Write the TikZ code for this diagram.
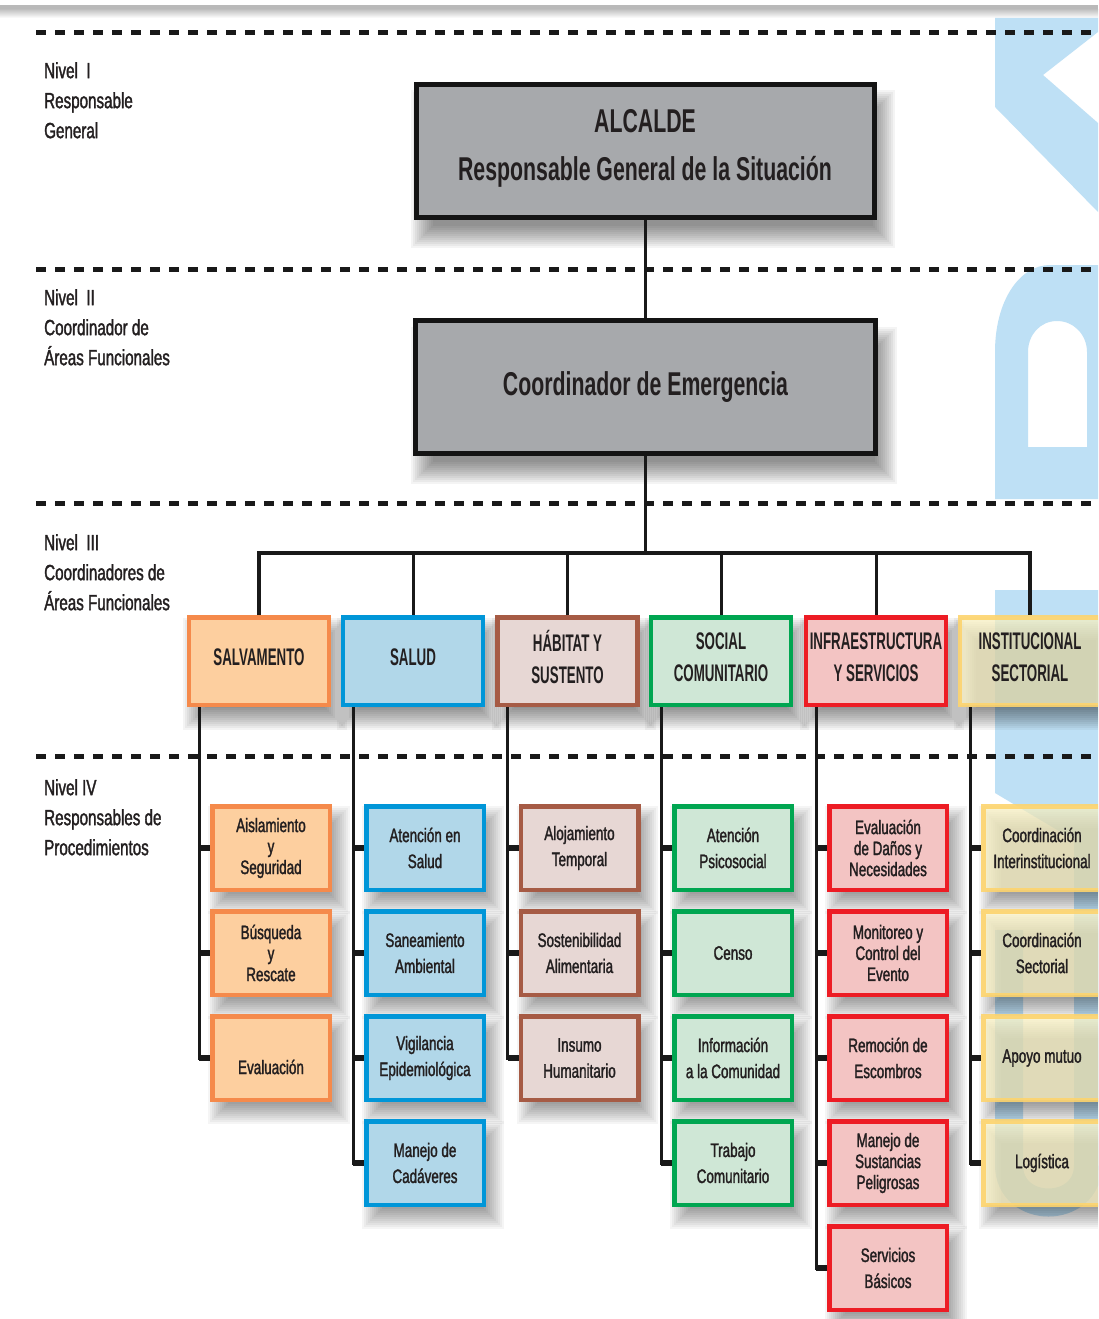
\documentclass[tikz,border=0pt]{standalone}
\usepackage{fontspec}
\setmainfont{Liberation Sans}
\newfontfamily\fLab{Liberation Sans}[FakeStretch=0.69,FakeBold=1.5]
\newfontfamily\fTop{Liberation Sans}[FakeStretch=0.645]
\newfontfamily\fMid{Liberation Sans}[FakeStretch=0.555]
\definecolor{txt}{HTML}{231F20}
\definecolor{boxgray}{HTML}{A7A9AC}
\definecolor{wm}{RGB}{190,224,245}
\definecolor{orB}{HTML}{F58A4B}\definecolor{orF}{HTML}{FDCF9F}
\definecolor{blB}{HTML}{0096D8}\definecolor{blF}{HTML}{B1D7E9}
\definecolor{brB}{HTML}{A65B45}\definecolor{brF}{HTML}{E7D7D4}
\definecolor{grB}{HTML}{00A651}\definecolor{grF}{HTML}{CFE7D6}
\definecolor{rdB}{HTML}{ED1C24}\definecolor{rdF}{HTML}{F3C4C3}
\definecolor{ylB}{HTML}{FDD46E}\definecolor{ylF}{HTML}{FFF7C6}
% soft shadow: centre x, centre y, half width, half height, x offset, y offset, step opacity
\newcommand\softsh[7]{\foreach \k in {0,...,11}{\fill[black,fill opacity=#7] ({#1+#5-#3-12+2*\k},{#2+#6-#4-12+2*\k}) rectangle ({#1+#5+#3+12-2*\k},{#2+#6+#4+12-2*\k});}}
\begin{document}
\begin{tikzpicture}[x=1pt,y=-1pt,
  box/.style={rectangle,draw,inner sep=0pt,align=center,text=txt},
  topbox/.style={box,draw=black!92,fill=boxgray,line width=5pt,minimum width=458pt,minimum height=133pt,font=\fTop\bfseries\fontsize{33}{48}\selectfont},
  area/.style={box,line width=4.5pt,minimum width=140pt,minimum height=87.5pt,font=\fMid\bfseries\fontsize{24}{32}\selectfont,execute at end node={\rule[-8pt]{0pt}{8pt}}},
  task/.style={box,line width=4.5pt,minimum width=117.5pt,minimum height=83.5pt,font=\fLab\fontsize{19.5}{26}\selectfont},
  task3/.style={task,font=\fLab\fontsize{19.5}{21}\selectfont},
  cA/.style={draw=orB,fill=orF},
  cB/.style={draw=blB,fill=blF},
  cC/.style={draw=brB,fill=brF},
  cD/.style={draw=grB,fill=grF},
  cE/.style={draw=rdB,fill=rdF},
  cF/.style={draw=ylB,fill=ylF,fill opacity=0.7,draw opacity=0.9,text opacity=1},
  lvl/.style={anchor=north west,inner sep=0pt,align=left,text=txt,font=\fLab\fontsize{22}{30}\selectfont},
  sep/.style={line width=5pt,dash pattern=on 10pt off 9pt,draw=black!90},
  conn/.style={line width=3pt,draw=black!90},
  busline/.style={line width=4pt,draw=black!90},
  stub/.style={line width=6pt,draw=black!90}]
\useasboundingbox (0,0) rectangle (1098,1319);
\clip (0,0) rectangle (1098,1319);
\fill[white] (0,0) rectangle (1098,1319);
% top bar
\fill[gray!55] (0,5) rectangle (1098,10);
\shade[top color=gray!45,bottom color=white] (0,10) rectangle (1098,18);
% watermark
\fill[wm] (995,18) -- (1098,18) -- (1098,32) -- (1043,75) -- (1098,123) -- (1098,212) -- (995,107) -- cycle;
\fill[wm,even odd rule] (995,499) -- (995,352) .. controls (995,300) and (1020,265) .. (1050,265) -- (1098,265) -- (1098,499) -- cycle
  (1028,447) -- (1028,352) .. controls (1028,335) and (1040,321) .. (1057,321) .. controls (1074,321) and (1087,335) .. (1087,352) -- (1087,447) -- cycle;
\fill[wm] (995,590) -- (1098,590) -- (1098,1170) -- (1074,1170) -- (1074,840) -- (995,793) -- cycle;
\draw[wm,line width=28pt] (1009,930) -- (1009,1165) .. controls (1009,1215) and (1088,1215) .. (1088,1165);
% level separators
\foreach \yy in {33,269,503,756} \draw[sep] (36,\yy) -- (1110,\yy);
% shadows
\softsh{645}{151}{230}{66.5}{8}{18}{0.045}
\softsh{645.5}{387}{231}{66.5}{8}{18}{0.045}
\foreach \xx in {259,413,567.5,721,876,1030} {\softsh{\xx}{661}{70}{43.75}{6}{13}{0.042}}
\foreach \xx/\yy in {271/848,271/953,271/1058,425/848,425/953,425/1058,425/1163,579.5/848,579.5/953,579.5/1058,733/848,733/953,733/1058,733/1163,888/848,888/953,888/1058,888/1163,888/1268,1042/848,1042/953,1042/1058,1042/1163} {\softsh{\xx}{\yy}{58.75}{41.75}{8}{12}{0.04}}
% level labels
\node[lvl] (n1) at (44,62) {Nivel\ \ I\\Responsable\\General};
\node[lvl] (n2) at (44,289) {Nivel\ \ II\\Coordinador de\\Áreas Funcionales};
\node[lvl] (n3) at (44,534) {Nivel\ \ III\\Coordinadores de\\Áreas Funcionales};
\node[lvl] (n4) at (44,779) {Nivel IV\\Responsables de\\Procedimientos};
% level I and II
\node[topbox] (alc) at (645,151) {ALCALDE\\Responsable General de la Situación\rule[-13pt]{0pt}{13pt}};
\node[topbox,minimum width=460pt] (coord) at (645.5,387) {Coordinador de Emergencia};
% level III
\node[area,cA] (s1) at (259,661) {SALVAMENTO};
\node[area,cB] (s2) at (413,661) {SALUD};
\node[area,cC] (s3) at (567.5,661) {HÁBITAT Y\\SUSTENTO};
\node[area,cD] (s4) at (721,661) {SOCIAL\\COMUNITARIO};
\node[area,cE] (s5) at (876,661) {INFRAESTRUCTURA\\Y SERVICIOS};
\node[area,cF] (s6) at (1030,661) {INSTITUCIONAL\\SECTORIAL};
% level IV
\node[task3,cA] (t11) at (271,848) {Aislamiento\\y\\Seguridad};
\node[task3,cA] (t12) at (271,953) {Búsqueda\\y\\Rescate};
\node[task,cA] (t13) at (271,1058) {};
\node[inner sep=0pt,text=txt,font=\fLab\fontsize{19.5}{26}\selectfont] (t13t) at (271,1067) {Evaluación};
\node[task,cB] (t21) at (425,848) {Atención en\\Salud};
\node[task,cB] (t22) at (425,953) {Saneamiento\\Ambiental};
\node[task,cB] (t23) at (425,1058) {Vigilancia\\Epidemiológica};
\node[task,cB] (t24) at (425,1163) {Manejo de\\Cadáveres};
\node[task,cC] (t31) at (579.5,848) {Alojamiento\\Temporal};
\node[task,cC] (t32) at (579.5,953) {Sostenibilidad\\Alimentaria};
\node[task,cC] (t33) at (579.5,1058) {Insumo\\Humanitario};
\node[task,cD] (t41) at (733,848) {Atención\\Psicosocial};
\node[task,cD] (t42) at (733,953) {Censo};
\node[task,cD] (t43) at (733,1058) {Información\\a la Comunidad};
\node[task,cD] (t44) at (733,1163) {Trabajo\\Comunitario};
\node[task3,cE] (t51) at (888,848) {Evaluación\\de Daños y\\Necesidades};
\node[task3,cE] (t52) at (888,953) {Monitoreo y\\Control del\\Evento};
\node[task,cE] (t53) at (888,1058) {Remoción de\\Escombros};
\node[task3,cE] (t54) at (888,1163) {Manejo de\\Sustancias\\Peligrosas};
\node[task,cE] (t55) at (888,1268) {Servicios\\Básicos};
\node[task,cF] (t61) at (1042,848) {Coordinación\\Interinstitucional};
\node[task,cF] (t62) at (1042,953) {Coordinación\\Sectorial};
\node[task,cF] (t63) at (1042,1058) {Apoyo mutuo};
\node[task,cF] (t64) at (1042,1163) {Logística};
% connectors top
\draw[conn] (alc.south) -- (alc.south |- coord.north);
\coordinate (bus) at (644,553);
\draw[conn] (coord.south) -- (coord.south |- bus);
\draw[busline] (s1.north) -- (s1.north |- bus) -- (s6.north |- bus) -- (s6.north);
\foreach \s in {s2,s3,s4,s5} \draw[conn] (\s.north |- bus) -- (\s.north);
% brackets
\foreach \c/\last/\list in {1/t13/{t11,t12,t13},2/t24/{t21,t22,t23,t24},3/t33/{t31,t32,t33},4/t44/{t41,t42,t43,t44},5/t55/{t51,t52,t53,t54,t55},6/t64/{t61,t62,t63,t64}}{
  \coordinate (v\c) at ([xshift=-60pt]s\c.south);
  \draw[conn] (v\c) -- (v\c |- \last.west) -- (\last.west);
  \foreach \t in \list \draw[stub] (v\c |- \t.west) -- (\t.west);
}
\end{tikzpicture}
\end{document}
